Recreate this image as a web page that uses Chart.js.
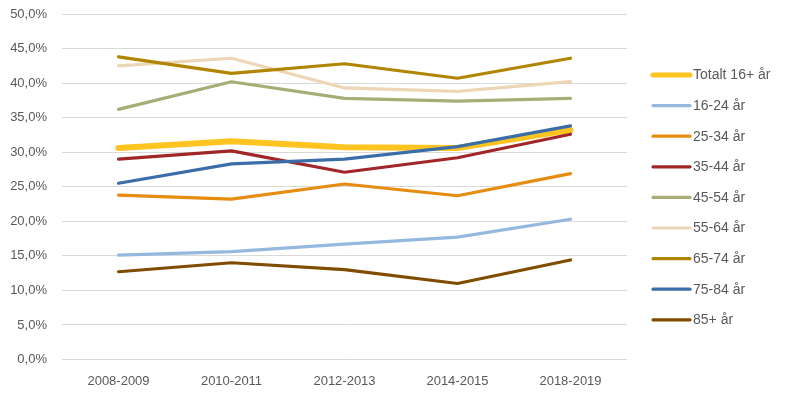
<!DOCTYPE html>
<html><head><meta charset="utf-8">
<script src="https://cdn.jsdelivr.net/npm/chart.js@4/dist/chart.umd.min.js"></script>
<style>html,body{margin:0;padding:0;background:#fff}#wrap{width:788px;height:395px}</style>
</head><body><div id="wrap"><canvas id="c" width="788" height="395"></canvas></div>
<script>
const categories = ['2008-2009','2010-2011','2012-2013','2014-2015','2018-2019'];
const seriesNames = ['Totalt 16+ år','16-24 år','25-34 år','35-44 år','45-54 år','55-64 år','65-74 år','75-84 år','85+ år'];
const totalt = [30.6, 31.6, 30.7, 30.6, 33.2];
const age16_24 = [15.1, 15.6, 16.7, 17.7, 20.3];
const age25_34 = [23.8, 23.2, 25.4, 23.7, 26.9];
const age35_44 = [29.0, 30.2, 27.1, 29.2, 32.6];
const age45_54 = [36.2, 40.2, 37.8, 37.4, 37.8];
const age55_64 = [42.5, 43.6, 39.3, 38.8, 40.2];
const age65_74 = [43.8, 41.4, 42.8, 40.7, 43.6];
const age75_84 = [25.5, 28.3, 29.0, 30.8, 33.8];
const age85plus = [12.7, 14.0, 13.0, 11.0, 14.4];
const yTicks = [0,5,10,15,20,25,30,35,40,45,50];

const values = [totalt, age16_24, age25_34, age35_44, age45_54, age55_64, age65_74, age75_84, age85plus];
const colors = ['#FFC41F','#95B8DF','#E68C0E','#A02628','#A8AD75','#EDD5B6','#B08500','#3B6EA8','#7F4C00'];
const widths = [6,3.2,3.2,3.2,3.2,3.2,3.2,3.2,3.2];

const datasets = values.map((v,i)=>({
  label: seriesNames[i], data: v, borderColor: colors[i], backgroundColor: colors[i],
  borderWidth: widths[i], pointRadius: 0, tension: 0, fill: false,
  borderCapStyle: 'round', borderJoinStyle: 'round', order: values.length - i
}));

const legendPlugin = {
  id: 'customLegend',
  afterDraw(chart) {
    const ctx = chart.ctx;
    ctx.save();
    chart.data.datasets.forEach((ds, i) => {
      const y = 75 + i * 30.6;
      ctx.strokeStyle = ds.borderColor;
      ctx.lineWidth = i === 0 ? 5 : 3.2;
      ctx.lineCap = 'round';
      ctx.beginPath(); ctx.moveTo(653, y); ctx.lineTo(690, y); ctx.stroke();
      ctx.fillStyle = '#595959';
      ctx.font = '14px "Liberation Sans", Arial, sans-serif';
      ctx.textBaseline = 'middle';
      ctx.textAlign = 'left';
      ctx.fillText(ds.label, 693, y + 0.5);
    });
    ctx.restore();
  }
};

new Chart(document.getElementById('c'), {
  type: 'line',
  data: { labels: categories, datasets },
  options: {
    responsive: false, animation: false, devicePixelRatio: 1,
    layout: { padding: { top: 14, right: 161, left: 0, bottom: 0 } },
    plugins: { legend: { display: false }, tooltip: { enabled: false } },
    scales: {
      x: {
        offset: true,
        grid: { display: false, drawTicks: false },
        border: { display: false },
        ticks: { color: '#595959', font: { family: '"Liberation Sans", Arial, sans-serif', size: 13 }, padding: 14, maxRotation: 0 },
        afterFit: s => { s.height = 35.5; s.paddingLeft = 0; s.paddingRight = 0; }
      },
      y: {
        min: 0, max: 50,
        afterBuildTicks: s => { s.ticks = yTicks.map(v => ({ value: v })); },
        grid: { color: '#D9D9D9', lineWidth: 1, drawTicks: false, tickLength: 0 },
        border: { display: false },
        ticks: {
          color: '#595959', font: { family: '"Liberation Sans", Arial, sans-serif', size: 13 }, padding: 15,
          callback: v => v.toFixed(1).replace('.', ',') + '%'
        },
        afterFit: s => { s.width = 62; s.paddingTop = 0; s.paddingBottom = 0; }
      }
    }
  },
  plugins: [legendPlugin]
});
</script></body></html>
